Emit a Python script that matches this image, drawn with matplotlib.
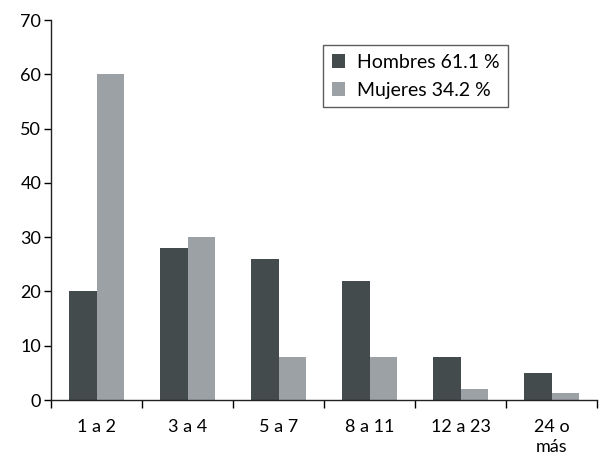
import matplotlib
matplotlib.use("Agg")
import matplotlib.pyplot as plt
import numpy as np

plt.rcParams['font.family'] = ['Lato', 'DejaVu Sans']

categories = ['1 a 2', '3 a 4', '5 a 7', '8 a 11', '12 a 23', '24 o\nmás']
hombres = [20, 28, 26, 22, 8, 5]
mujeres = [60, 30, 8, 8, 2, 1.3]
labels = ['Hombres 61.1 %', 'Mujeres 34.2 %']

dark = '#434b4d'
light = '#9ca1a6'

fig = plt.figure(figsize=(6, 4.59), dpi=100)
ax = fig.add_axes([0.085, 0.1285, 0.91, 0.8275])

x = np.arange(len(categories))
w = 0.305
ax.bar(x - w / 2, hombres, w, color=dark, label=labels[0])
ax.bar(x + w / 2, mujeres, w, color=light, label=labels[1])

ax.set_xlim(-0.5, len(categories) - 0.5)
ax.set_ylim(0, 70)
ax.set_yticks(range(0, 71, 10))
ax.set_xticks(x)
ax.set_xticklabels(categories, va='top', linespacing=1.3)
ax.set_xticks(np.arange(-0.5, len(categories), 1), minor=True)
ax.tick_params(axis='x', which='major', length=0, pad=14, labelsize=13)
ax.tick_params(axis='x', which='minor', length=6, direction='out', width=1)
ax.tick_params(axis='y', length=5, width=1, labelsize=13, pad=2)

for s in ('top', 'right'):
    ax.spines[s].set_visible(False)
for s in ('left', 'bottom'):
    ax.spines[s].set_linewidth(1)
    ax.spines[s].set_color('#222222')

leg = ax.legend(loc='upper left', bbox_to_anchor=(0.498, 0.934), frameon=True,
                fancybox=False, edgecolor='#333333', fontsize=14,
                handlelength=0.7, handleheight=0.7, handletextpad=0.6,
                borderpad=0.45, labelspacing=0.55, borderaxespad=0)
leg.get_frame().set_linewidth(1)

fig.savefig('out.png', dpi=100)
